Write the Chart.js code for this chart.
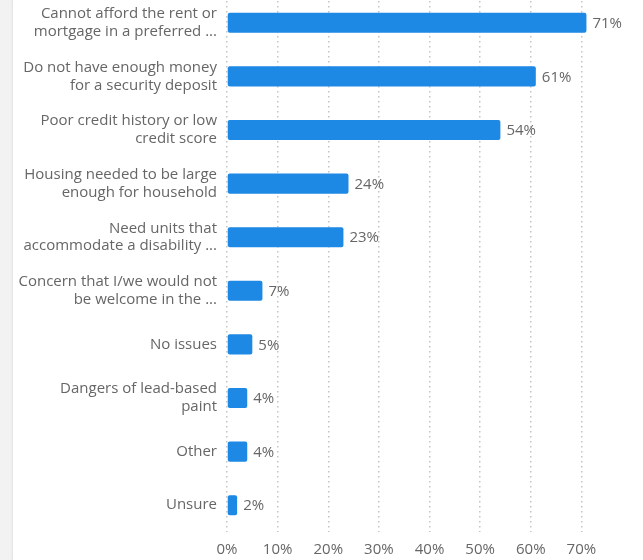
<!DOCTYPE html>
<html>
<head>
<meta charset="utf-8">
<script src="https://cdn.jsdelivr.net/npm/chart.js@4/dist/chart.umd.min.js"></script>
<style>
    body { margin: 0; background: #fff; overflow: hidden; }
    #wrap { position: relative; width: 643px; height: 560px; overflow: hidden; }
    #strip { position: absolute; left: 0; top: 0; width: 13px; height: 560px;
             background: #f2f2f2; box-shadow: inset -2px 0 2px -1px #e2e2e2; }
    #bar-chart { position: absolute; left: 0; top: -4px; }
</style>
</head>
<body>
<div id="wrap">
    <div id="strip"></div>
    <canvas id="bar-chart" width="643" height="564"></canvas>
</div>
<script>
// answers (share of respondents, %)
var reasons = [
    ["Cannot afford the rent or", "mortgage in a preferred ..."],
    ["Do not have enough money", "for a security deposit"],
    ["Poor credit history or low", "credit score"],
    ["Housing needed to be large", "enough for household"],
    ["Need units that", "accommodate a disability ..."],
    ["Concern that I/we would not", "be welcome in the ..."],
    "No issues",
    ["Dangers of lead-based", "paint"],
    "Other",
    "Unsure"
];
var shares = [71, 61, 54, 24, 23, 7, 5, 4, 4, 2];
var xTicks = [0, 10, 20, 30, 40, 50, 60, 70];

var textColor = "#666666";
var fontFamily = "'Open Sans', sans-serif";

// writes the percentage next to each bar
var valueLabels = {
    id: 'valueLabels',
    afterDatasetsDraw: function(chart) {
        var ctx = chart.ctx;
        var meta = chart.getDatasetMeta(0);
        ctx.save();
        ctx.font = "15px " + fontFamily;
        ctx.fillStyle = textColor;
        ctx.textAlign = "left";
        ctx.textBaseline = "middle";
        meta.data.forEach(function(bar, i) {
            ctx.fillText(shares[i] + "%", bar.x + 6, bar.y + 1);
        });
        ctx.restore();
    }
};

var ctx = document.getElementById('bar-chart').getContext('2d');

var myChart = new Chart(ctx, {
    type: 'bar',
    data: {
        labels: reasons,
        datasets: [{
            data: shares,
            backgroundColor: "#1e88e5",
            borderRadius: 2,
            borderSkipped: false,
            categoryPercentage: 1,
            barPercentage: 0.375
        }]
    },
    options: {
        indexAxis: 'y',
        responsive: false,
        animation: false,
        devicePixelRatio: 1,
        layout: { padding: { left: 13, right: 11, top: 0, bottom: 0 } },
        plugins: {
            legend: { display: false },
            tooltip: { enabled: false }
        },
        scales: {
            x: {
                min: 0,
                max: 80,
                afterBuildTicks: function(scale) {
                    scale.ticks = xTicks.map(function(v) { return { value: v }; });
                },
                afterFit: function(scale) {
                    scale.height = 28;
                    scale.paddingLeft = 0;
                    scale.paddingRight = 0;
                },
                grid: {
                    color: "#c4c4c4",
                    lineWidth: 1.5,
                    drawTicks: false
                },
                border: { display: false, dash: [1.5, 3.5] },
                ticks: {
                    padding: 9,
                    color: textColor,
                    font: { family: fontFamily, size: 15 },
                    maxRotation: 0,
                    callback: function(v) { return v + "%"; }
                }
            },
            y: {
                afterFit: function(scale) {
                    scale.width = 214;
                    scale.paddingTop = 0;
                    scale.paddingBottom = 0;
                },
                grid: { display: false, drawTicks: false },
                border: { display: false },
                ticks: {
                    padding: 10,
                    color: textColor,
                    font: { family: fontFamily, size: 15, lineHeight: 1.18 },
                    autoSkip: false
                }
            }
        }
    },
    plugins: [valueLabels]
});
</script>
</body>
</html>
